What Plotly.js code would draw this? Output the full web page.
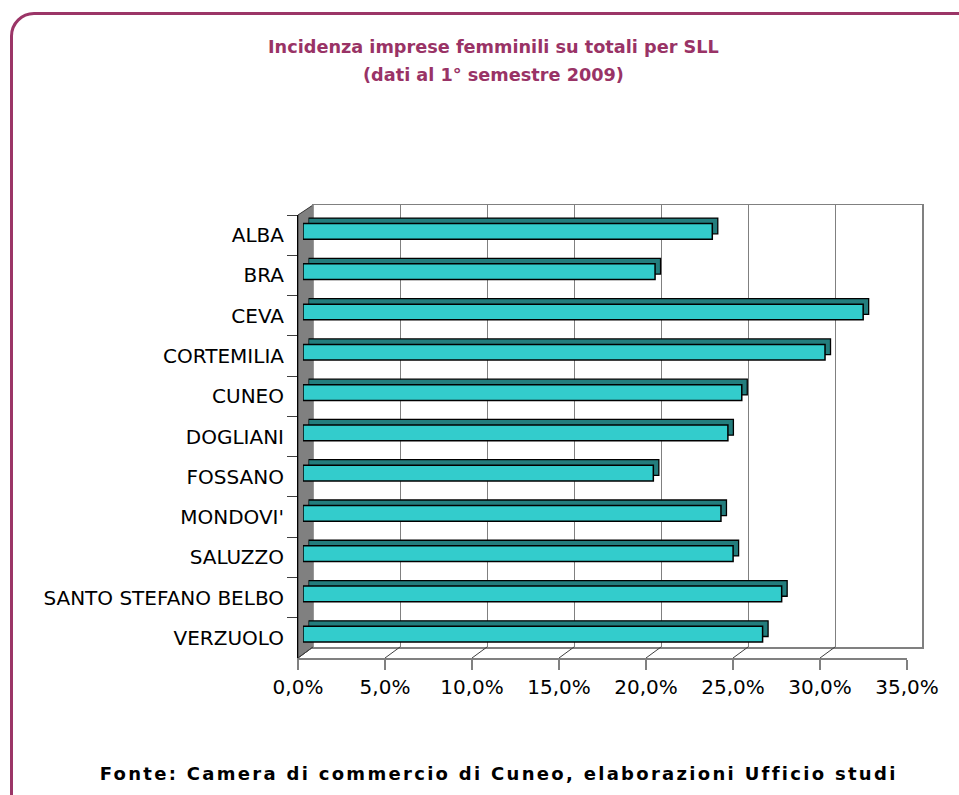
<!DOCTYPE html>
<html>
<head>
<meta charset="utf-8">
<script src="https://cdn.plot.ly/plotly-3.0.1.min.js"></script>
<style>
  html, body { margin: 0; padding: 0; background: #ffffff; overflow: hidden; }
  #chart { position: absolute; left: 0; top: 0; width: 959px; height: 795px; }
  #frame { position: absolute; left: 10px; top: 12px; width: 990px; height: 830px;
           border: 3px solid #9b3567; border-radius: 24px; pointer-events: none; z-index: 5; }
  #chart .annotation[data-index="2"] text { letter-spacing: 2.3px; }
</style>
</head>
<body>
<div id="chart"></div>
<div id="frame"></div>
<script>
// ---- data ----
const categories = ["ALBA", "BRA", "CEVA", "CORTEMILIA", "CUNEO", "DOGLIANI", "FOSSANO",
                    "MONDOVI'", "SALUZZO", "SANTO STEFANO BELBO", "VERZUOLO"];
const values = [23.6, 20.3, 32.3, 30.1, 25.3, 24.5, 20.2, 24.1, 24.8, 27.6, 26.5];
const xTickVals = [0, 5, 10, 15, 20, 25, 30, 35];
const xTickText = ["0,0%", "5,0%", "10,0%", "15,0%", "20,0%", "25,0%", "30,0%", "35,0%"];
const titleLine1 = "Incidenza imprese femminili su totali per SLL";
const titleLine2 = "(dati al 1° semestre 2009)";
const sourceText = "Fonte: Camera di commercio di Cuneo, elaborazioni Ufficio studi";

// ---- layout helpers (pixel -> paper) ----
const W = 959, H = 795;
const px = x => x / W;
const py = y => 1 - y / H;

const catAxis = (dom, extra) => Object.assign({
  type: "category", categoryarray: categories, categoryorder: "array",
  range: [categories.length - 0.5, -0.5], domain: dom, fixedrange: true
}, extra);

const traces = [
  // back wall subplot (carries gridlines)
  { type: "bar", orientation: "h", x: values, y: categories, xaxis: "x", yaxis: "y",
    marker: { color: "rgba(0,0,0,0)", line: { width: 0 } }, width: 0.39, hoverinfo: "skip" },
  // depth (top / side faces) of the 3D bars
  { type: "bar", orientation: "h", x: values, y: categories, xaxis: "x2", yaxis: "y2",
    marker: { color: "#237d7d", line: { color: "#000000", width: 1.3 } }, width: 0.39, hoverinfo: "skip" },
  // front faces of the bars
  { type: "bar", orientation: "h", x: values, y: categories, xaxis: "x3", yaxis: "y3",
    marker: { color: "#33cccc", line: { color: "#000000", width: 1.5 } }, width: 0.39, hoverinfo: "skip" },
  // front axes (labels)
  { type: "bar", orientation: "h", x: values, y: categories, xaxis: "x4", yaxis: "y4",
    marker: { color: "rgba(0,0,0,0)", line: { width: 0 } }, width: 0.39, hoverinfo: "skip" }
];

const shapes = [
  // left wall
  { type: "path", xref: "paper", yref: "paper", layer: "below",
    path: `M ${px(298)},${py(215)} L ${px(313)},${py(205)} L ${px(313)},${py(647)} L ${px(298)},${py(658)} Z`,
    fillcolor: "#808080", line: { color: "#333333", width: 1 } }
];
// floor depth lines at each tick
xTickVals.forEach(v => {
  shapes.push({ type: "line", xref: "x4", xsizemode: "pixel", xanchor: v, x0: 0, x1: 15,
                yref: "paper", ysizemode: "pixel", yanchor: py(658), y0: 0, y1: 11,
                line: { color: v === 35 ? "#808080" : "#404040", width: 1 }, layer: "above" });
});

const layout = {
  width: W, height: H,
  margin: { l: 0, r: 0, t: 0, b: 0, pad: 0 },
  paper_bgcolor: "#ffffff", plot_bgcolor: "rgba(0,0,0,0)",
  showlegend: false, hovermode: false, barmode: "overlay",
  font: { family: "DejaVu Sans, Verdana, sans-serif", color: "#000000" },
  title: { text: "" },
  // back wall
  xaxis: { domain: [px(313), px(922)], range: [0, 35], anchor: "y",
           tickvals: xTickVals, showticklabels: false, ticks: "",
           showgrid: true, gridcolor: "#808080", gridwidth: 1, zeroline: false,
           showline: true, linecolor: "#808080", linewidth: 1.5, mirror: true, fixedrange: true },
  yaxis: catAxis([py(647), py(205)], { anchor: "x", showticklabels: false, ticks: "",
           showgrid: false, zeroline: false, showline: true, linecolor: "#808080",
           linewidth: 1.5, mirror: true }),
  // bar depth copy
  xaxis2: { domain: [px(308.5), px(915.5)], range: [0, 35], anchor: "y2", visible: false, fixedrange: true },
  yaxis2: catAxis([py(648.8), py(205.8)], { anchor: "x2", visible: false }),
  // bar fronts
  xaxis3: { domain: [px(303), px(910)], range: [0, 35], anchor: "y3", visible: false, fixedrange: true },
  yaxis3: catAxis([py(654.3), py(211.3)], { anchor: "x3", visible: false }),
  // front axes
  xaxis4: { domain: [px(298), px(907)], range: [0, 35], anchor: "y4",
            tickvals: xTickVals, ticktext: xTickText, ticks: "outside", ticklen: 10,
            tickcolor: "#808080", tickwidth: 1.5, showgrid: false, zeroline: false,
            showline: true, linecolor: "#808080", linewidth: 1.5,
            tickfont: { size: 20, color: "#000000" }, fixedrange: true },
  yaxis4: catAxis([py(658), py(215)], { anchor: "x4", ticks: "outside", tickson: "boundaries",
            ticklen: 10, tickcolor: "#404040", tickwidth: 1, showgrid: false, zeroline: false,
            showline: true, linecolor: "#000000", linewidth: 1, ticklabelstandoff: 9,
            tickfont: { size: 20, color: "#000000" } }),
  shapes: shapes,
  annotations: [
    { text: "<b>" + titleLine1 + "</b>", xref: "paper", yref: "paper",
      x: px(493), y: py(47), xanchor: "center", yanchor: "middle", showarrow: false,
      font: { family: "DejaVu Sans, sans-serif", size: 17.7, color: "#993366" } },
    { text: "<b>" + titleLine2 + "</b>", xref: "paper", yref: "paper",
      x: px(493), y: py(75), xanchor: "center", yanchor: "middle", showarrow: false,
      font: { family: "DejaVu Sans, sans-serif", size: 17.7, color: "#993366" } },
    { text: "<b>" + sourceText + "</b>", xref: "paper", yref: "paper",
      x: px(498), y: py(773), xanchor: "center", yanchor: "middle", showarrow: false,
      font: { family: "DejaVu Sans, sans-serif", size: 18, color: "#000000" } }
  ]
};

Plotly.newPlot("chart", traces, layout, { staticPlot: true, displayModeBar: false });
</script>
</body>
</html>
